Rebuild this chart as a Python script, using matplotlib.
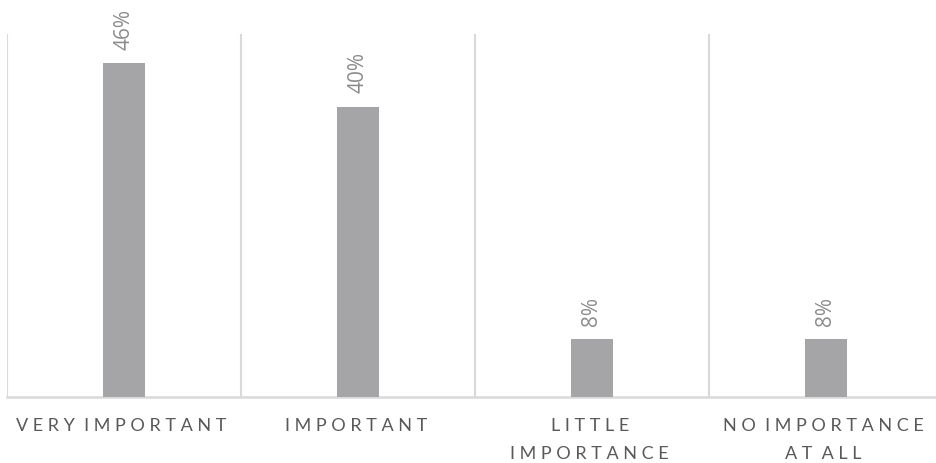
import matplotlib
matplotlib.use("Agg")
import matplotlib.pyplot as plt

# Survey responses: share of respondents per importance level
categories = ["VERY IMPORTANT", "IMPORTANT", "LITTLE\nIMPORTANCE", "NO IMPORTANCE\nAT ALL"]
values = [46, 40, 8, 8]
value_labels = ["46%", "40%", "8%", "8%"]

BAR_COLOR = "#a5a5a8"
GRID_COLOR = "#d9d9d9"
TICK_COLOR = "#595959"
LABEL_COLOR = "#8c8c8c"


def spread(text):
    """Letter-space a label: a space after every letter, wider gap between words."""
    lines = []
    for line in text.split("\n"):
        words = [" ".join(w) for w in line.split(" ")]
        lines.append("  ".join(words) + " ")
    return "\n".join(lines)


plt.rcParams["font.family"] = ["Lato", "DejaVu Sans"]

fig = plt.figure(figsize=(9.36, 4.63), dpi=100)
ax = fig.add_axes([7 / 936, 1 - 397 / 463, 936 / 936, (397 - 34) / 463])

x = list(range(len(categories)))
ax.bar(x, values, width=0.18, color=BAR_COLOR, zorder=3)

ax.set_xlim(-0.5, len(categories) - 0.5)
ax.set_ylim(0, 50)

# category separators
for b in [-0.5, 0.5, 1.5, 2.5]:
    ax.axvline(b, color=GRID_COLOR, lw=1.5, zorder=1)

for s in ["top", "right", "left"]:
    ax.spines[s].set_visible(False)
ax.spines["bottom"].set_color(GRID_COLOR)
ax.spines["bottom"].set_linewidth(1.8)

ax.set_yticks([])
ax.set_xticks(x)
ax.set_xticklabels([spread(c) for c in categories], color=TICK_COLOR,
                   fontsize=13, linespacing=1.9, va="top")
ax.tick_params(axis="x", length=0, pad=15)

for xi, v, lab in zip(x, values, value_labels):
    ax.annotate(lab, (xi, v), xytext=(0, 9.5), textcoords="offset points",
                rotation=90, ha="center", va="bottom", color=LABEL_COLOR,
                fontsize=15, family=["Open Sans", "DejaVu Sans"])

fig.savefig("out.png", dpi=100)
